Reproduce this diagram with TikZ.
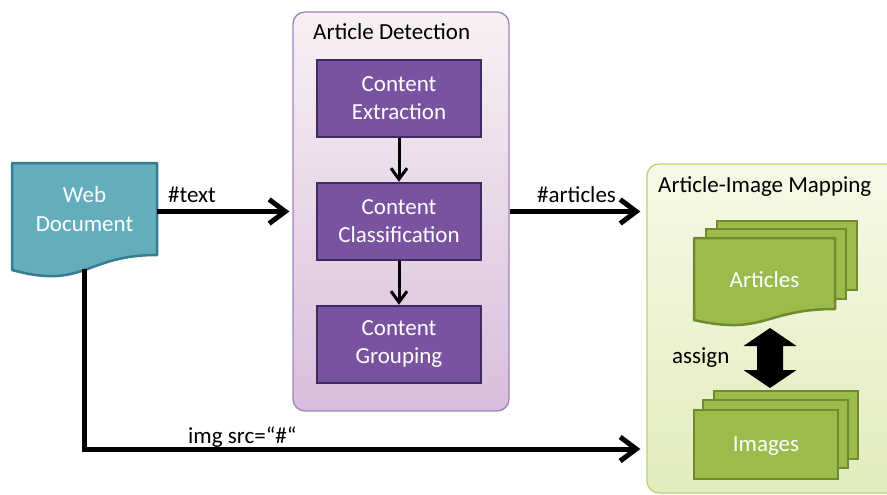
\documentclass[tikz,border=0pt]{standalone}
\usepackage{fontspec}
\setmainfont{Carlito}
\usetikzlibrary{arrows.meta,calc}

\definecolor{docfill}{HTML}{63ADBD}
\definecolor{docline}{HTML}{387C8F}
\definecolor{procfill}{HTML}{7A53A0}
\definecolor{procline}{HTML}{3F2B5F}
\definecolor{dettop}{HTML}{F8F0F4}
\definecolor{detbot}{HTML}{D8BEDB}
\definecolor{detline}{HTML}{A282BC}
\definecolor{maptop}{HTML}{F7F9E7}
\definecolor{mapbot}{HTML}{E1ECBC}
\definecolor{mapline}{HTML}{B9D46E}
\definecolor{pagefill}{HTML}{9BBC4B}
\definecolor{pageline}{HTML}{6F8A2F}

\begin{document}
\begin{tikzpicture}[x=1pt,y=-1pt,
  every node/.style={font=\fontsize{23}{28}\selectfont},
  groupbox/.style={draw=#1line, line width=1.3pt, rounded corners=12pt,
    top color=#1top, bottom color=#1bot, inner sep=0pt},
  proc/.style={draw=procline, fill=procfill, line width=2.5pt,
    minimum width=164pt, minimum height=77pt, text=white, align=center, inner sep=0pt},
  frame/.style={inner sep=0pt, outer sep=0pt},
  page/.style={draw=pageline, fill=pagefill, line width=2.5pt},
  pagetext/.style={text=white, inner sep=0pt},
  flow/.style={line width=5pt, -{Straight Barb[length=16pt,width=24pt]}},
  link/.style={line width=3pt, -{Straight Barb[length=11pt,width=16pt]}},
  lbl/.style={anchor=base west, inner sep=0pt, text=black}
]
\path[use as bounding box] (0,0) rectangle (887,495);
\clip (0,0) rectangle (887,495);

% group containers
\node[groupbox=det, minimum width=216pt, minimum height=399pt] (det) at (401,211.5) {};
\node[lbl] (dettitle) at (313,40) {Article Detection};
\node[groupbox=map, minimum width=258pt, minimum height=329pt] (map) at (776,328.5) {};
\node[lbl] (maptitle) at (658,192) {Article-Image Mapping};

% processing steps
\node[proc] (ext) at (399,98.5) {Content\\Extraction};
\node[proc] (cls) at (399,221.5) {Content\\Classification};
\node[proc] (grp) at (399,344.5) {Content\\Grouping};
\draw[link] (ext.south) -- (cls.north);
\draw[link] (cls.south) -- (grp.north);

% web document
\path node[frame, minimum width=145pt, minimum height=92pt] (web) at (84.5,209) {};
\draw[fill=docfill, draw=docline, line width=2.5pt, line join=round]
  (web.north west) -- (web.north east) -- (web.south east)
  .. controls (web.south) and ($(web.south)+(0,35)$) .. ($(web.south west)+(0,15)$) -- cycle;
\node[text=white, align=center, inner sep=0pt, font=\fontsize{23}{28.5}\selectfont]
  (weblabel) at (web.center) {Web\\Document};

% article pages
\draw[page] (717,221) rectangle (857,290);
\draw[page] (706,229) rectangle (846,299);
\path node[frame, minimum width=141pt, minimum height=71pt] (art) at (764.5,273.5) {};
\draw[page, line join=round]
  (art.north west) -- (art.north east) -- (art.south east)
  .. controls (art.south) and ($(art.south)+(0,27)$) .. ($(art.south west)+(0,11)$) -- cycle;
\node[pagetext] (artlabel) at ($(art.center)+(0,6.5)$) {Articles};

% image pages
\draw[page] (714,391) rectangle (858,459);
\draw[page] (703,400) rectangle (848,468);
\node[page, minimum width=144pt, minimum height=69pt, inner sep=0pt] (img) at (766,444.5) {};
\node[pagetext] (imglabel) at ($(img.center)+(0,2)$) {Images};

% assignment between articles and images
\coordinate (dtop) at (770,328);
\coordinate (dbot) at (770,388);
\fill[black] (dtop) -- ++(26.5,18) -- ++(-13.5,0) |- ($(dbot)+(13,-18)$) -- ++(13.5,0)
  -- (dbot) -- ++(-26.5,-18) -- ++(13.5,0) |- ($(dtop)+(-13,18)$) -- ++(-13.5,0) -- cycle;
\node[lbl] (assignlbl) at (672,363) {assign};

% data flow
\draw[flow] (web.east |- det.west) -- ([xshift=-3pt]det.west);
\node[lbl] (textlbl) at (168,202) {\#text};
\draw[flow] (det.east) -- ([xshift=-6pt]map.west |- det.east);
\node[lbl] (artslbl) at (537,202) {\#articles};
\coordinate (bend) at ($(web.south)+(0,194)$);
\draw[flow] ($(web.south)+(0,14)$) -- (bend) -- ([xshift=-6pt]map.west |- bend);
\node[lbl] (srclbl) at (188,443) {img src=“\#“};
\end{tikzpicture}
\end{document}
